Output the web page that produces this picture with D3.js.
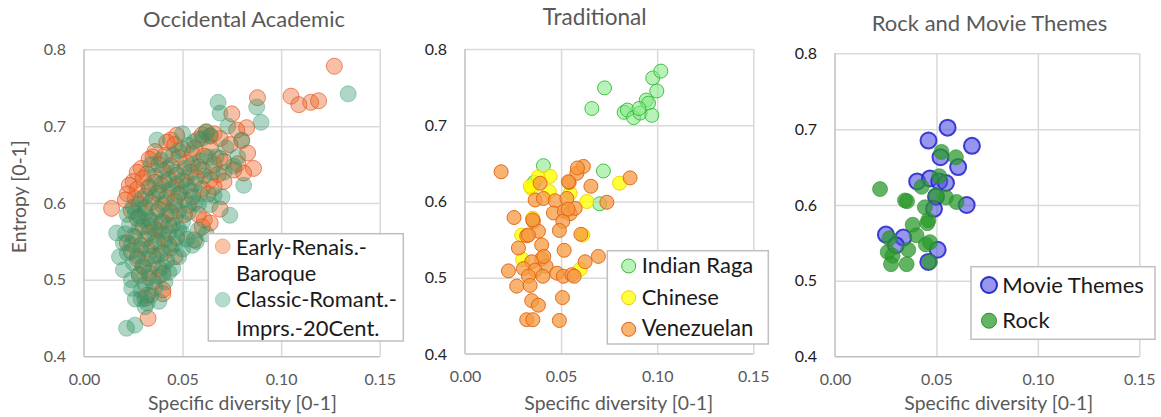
<!DOCTYPE html>
<html><head><meta charset="utf-8">
<script src="https://cdn.jsdelivr.net/npm/d3@7"></script>
<style>body{margin:0;background:#fff}svg{display:block}text{font-family:Lato,"Open Sans",sans-serif}</style>
</head><body><svg id="c" width="1161" height="417"></svg>
<script>
const xTicks=[0,0.05,0.10,0.15];
const yTicks=[0.4,0.5,0.6,0.7,0.8];
const titles=["Occidental Academic","Traditional","Rock and Movie Themes"];
const xTitle="Specific diversity [0-1]";
const yTitle="Entropy [0-1]";

const earlyBaroque=[[0.127,0.778],[0.105,0.739],[0.109,0.728],[0.115,0.731],[0.119,0.733],[0.088,0.737],[0.075,0.716],
[0.0825,0.698],[0.0775,0.695],[0.060,0.689],[0.062,0.692],[0.064,0.687],[0.066,0.690],[0.047,0.688],
[0.044,0.682],[0.042,0.679],[0.046,0.676],[0.058,0.683],[0.069,0.684],[0.080,0.681],
[0.036,0.667],[0.050,0.670],[0.056,0.671],[0.064,0.672],[0.074,0.676],
[0.035,0.660],[0.033,0.657],[0.041,0.662],[0.048,0.659],[0.055,0.664],[0.061,0.661],[0.083,0.665],[0.069,0.658],
[0.029,0.645],[0.038,0.650],[0.044,0.648],[0.052,0.652],[0.058,0.647],[0.066,0.650],[0.071,0.654],[0.086,0.645],[0.078,0.651],
[0.027,0.640],[0.032,0.638],[0.040,0.642],[0.047,0.636],[0.054,0.640],[0.060,0.643],[0.068,0.637],[0.081,0.639],[0.076,0.643],
[0.025,0.628],[0.030,0.632],[0.036,0.627],[0.043,0.631],[0.050,0.629],[0.057,0.633],[0.064,0.630],[0.071,0.628],
[0.023,0.623],[0.027,0.618],[0.033,0.621],[0.039,0.624],[0.045,0.619],[0.052,0.622],[0.060,0.618],[0.066,0.621],
[0.022,0.612],[0.026,0.606],[0.031,0.609],[0.037,0.613],[0.042,0.607],[0.048,0.611],[0.055,0.608],[0.063,0.612],
[0.014,0.593],[0.021,0.604],[0.028,0.598],[0.034,0.601],[0.040,0.597],[0.046,0.602],[0.053,0.597],[0.069,0.592],
[0.024,0.590],[0.031,0.587],[0.038,0.592],[0.044,0.588],[0.051,0.585],
[0.027,0.580],[0.034,0.576],[0.040,0.575],[0.046,0.581],[0.061,0.578],[0.064,0.574],[0.058,0.585],
[0.030,0.569],[0.036,0.566],[0.043,0.571],[0.060,0.569],
[0.025,0.557],[0.033,0.561],[0.040,0.559],[0.047,0.555],[0.056,0.552],
[0.022,0.548],[0.029,0.545],[0.037,0.550],[0.043,0.546],
[0.024,0.537],[0.032,0.540],[0.040,0.535],
[0.046,0.530],[0.027,0.527],[0.035,0.531],
[0.030,0.518],[0.038,0.515],
[0.028,0.506],[0.033,0.509],[0.040,0.508],
[0.035,0.498],[0.040,0.487],[0.040,0.482],[0.031,0.476],[0.032,0.480],[0.0325,0.450]];

const classicRomant=[[0.134,0.742],[0.0876,0.725],[0.0898,0.705],[0.068,0.731],[0.069,0.717],[0.080,0.682],[0.081,0.623],[0.074,0.584],
[0.0216,0.437],[0.0258,0.441],[0.0242,0.489],[0.020,0.513],[0.0166,0.561],[0.031,0.465],[0.029,0.475],
[0.037,0.682],[0.050,0.690],[0.062,0.693],[0.064,0.688],[0.073,0.700],[0.072,0.672],[0.067,0.660],[0.078,0.660],[0.076,0.648],
[0.071,0.640],[0.070,0.608],[0.066,0.610],[0.064,0.598],[0.058,0.598],[0.058,0.565],[0.062,0.560],[0.057,0.550],[0.052,0.553],[0.050,0.560],
[0.034,0.650],[0.039,0.656],[0.045,0.662],[0.048,0.668],[0.053,0.675],[0.056,0.680],[0.060,0.684],[0.042,0.645],[0.046,0.640],
[0.051,0.645],[0.055,0.650],[0.059,0.655],[0.063,0.660],[0.036,0.635],[0.041,0.628],[0.047,0.625],[0.052,0.632],[0.056,0.625],
[0.061,0.635],[0.065,0.640],[0.033,0.620],[0.038,0.615],[0.043,0.617],[0.049,0.614],[0.054,0.617],[0.059,0.612],[0.029,0.605],
[0.035,0.607],[0.041,0.600],[0.046,0.597],[0.051,0.605],[0.056,0.600],[0.025,0.595],[0.031,0.595],[0.037,0.588],[0.042,0.584],
[0.048,0.590],[0.053,0.588],[0.022,0.585],[0.028,0.583],[0.033,0.580],[0.039,0.576],[0.045,0.571],[0.050,0.575],
[0.023,0.572],[0.028,0.568],[0.033,0.570],[0.038,0.564],[0.043,0.561],[0.048,0.566],[0.021,0.560],[0.026,0.556],[0.031,0.553],
[0.036,0.558],[0.041,0.552],[0.046,0.547],[0.024,0.546],[0.029,0.540],[0.034,0.544],[0.039,0.538],[0.044,0.541],[0.022,0.535],
[0.027,0.531],[0.032,0.528],[0.037,0.532],[0.042,0.525],[0.025,0.522],[0.030,0.516],[0.035,0.520],[0.040,0.517],[0.045,0.515],
[0.028,0.508],[0.033,0.503],[0.038,0.505],[0.043,0.510],[0.031,0.495],[0.036,0.490],[0.041,0.497],[0.024,0.500],[0.034,0.480],
[0.029,0.486],[0.026,0.475],[0.032,0.470],[0.038,0.472],[0.020,0.548],[0.018,0.530],[0.026,0.588],[0.030,0.578],[0.050,0.540],
[0.055,0.545],[0.048,0.530]];

const indianRaga=[[0.0726,0.749],[0.066,0.722],[0.0828,0.717],[0.0845,0.720],[0.0877,0.710],[0.0911,0.716],[0.0943,0.733],[0.0955,0.729],
[0.0972,0.713],[0.0977,0.762],[0.1019,0.771],[0.0998,0.745],[0.0408,0.647],[0.0720,0.640],[0.0359,0.625],[0.0700,0.597],[0.0905,0.722]];
const chinese=[[0.0443,0.633],[0.0347,0.617],[0.0439,0.613],[0.0547,0.611],[0.0634,0.600],[0.0804,0.624],[0.0352,0.578],[0.0295,0.556],
[0.0613,0.556],[0.0300,0.524],[0.0599,0.511],[0.0340,0.620],[0.0380,0.632]];
const venezuelan=[[0.0188,0.639],[0.0391,0.624],[0.0365,0.602],[0.0408,0.604],[0.0469,0.601],[0.0530,0.604],[0.0542,0.625],[0.0582,0.637],
[0.0616,0.646],[0.0585,0.644],[0.0655,0.620],[0.0738,0.599],[0.0859,0.631],[0.0255,0.579],[0.0356,0.574],[0.0460,0.585],[0.0517,0.587],
[0.0547,0.584],[0.0573,0.591],[0.0509,0.574],[0.0491,0.562],[0.0382,0.561],[0.0321,0.555],[0.0603,0.557],[0.0278,0.539],[0.0399,0.543],
[0.0516,0.536],[0.0399,0.525],[0.0347,0.521],[0.0422,0.515],[0.0304,0.512],[0.0226,0.509],[0.0365,0.510],[0.0330,0.502],[0.0405,0.502],
[0.0478,0.506],[0.0512,0.502],[0.0556,0.504],[0.0568,0.502],[0.0625,0.521],[0.0694,0.528],[0.0269,0.489],[0.0339,0.490],[0.0347,0.470],
[0.0382,0.464],[0.0507,0.474],[0.0321,0.445],[0.0353,0.445],[0.0491,0.444],[0.0538,0.626],[0.0536,0.590],[0.0330,0.556],[0.0410,0.528],[0.0352,0.576]];
const movieThemes=[[0.0555,0.702],[0.0461,0.685],[0.0675,0.678],[0.052,0.663],[0.0607,0.650],[0.0405,0.631],[0.0468,0.635],[0.0514,0.631],
[0.0547,0.629],[0.0498,0.611],[0.0649,0.600],[0.0488,0.595],[0.0251,0.561],[0.0337,0.557],[0.0300,0.547],[0.0506,0.541],[0.046,0.525]];
const rock=[[0.0222,0.621],[0.0345,0.606],[0.0355,0.605],[0.0525,0.670],[0.0596,0.663],[0.0514,0.638],[0.0427,0.624],[0.0498,0.613],
[0.0547,0.610],[0.0599,0.604],[0.0443,0.597],[0.046,0.580],[0.0383,0.574],[0.0402,0.560],[0.0455,0.576],[0.0448,0.548],[0.0468,0.551],
[0.026,0.538],[0.0284,0.533],[0.0361,0.541],[0.0276,0.522],[0.0353,0.522],[0.0468,0.525],[0.0268,0.556]];

const svg=d3.select("#c");
function fit(t,w,base){t.style("font-size",base+"px");const L=t.node().getComputedTextLength();t.style("font-size",(base*w/L)+"px");return t;}

const panels=[
 {rect:[84,379.7,49.3,356.7],title:titles[0],tx:244,ty:27,tw:202,xtx:242.5,yTickColor:"#595959",showY:true,
  series:[{data:earlyBaroque,fill:"#EC6A2A",fo:0.42,stroke:"#E4501A",so:0.65,r:8,sw:1},
          {data:classicRomant,fill:"#2E9165",fo:0.38,stroke:"#3FA57A",so:0.45,r:8,sw:1}],
  legend:{box:[208.3,403.3,233.7,341],mx:222.7,tx:236,items:[
    {lines:["Early-Renais.-","Baroque"],my:246.3,base:[254.7,281.3],w:131,fill:"#F9C4A8",stroke:"#F4A886"},
    {lines:["Classic-Romant.-","Imprs.-20Cent."],my:299.7,base:[307,336.3],w:161,fill:"#B5DBCB",stroke:"#A3D2BF"}],r:7.3}},
 {rect:[465,753.3,49,354],title:titles[1],tx:594.7,ty:25,tw:104,xtx:618.8,yTickColor:"#262626",
  series:[{data:indianRaga,fill:"#7FE87F",fo:0.55,stroke:"#33BB33",so:0.9,r:7,sw:1},
          {data:chinese,fill:"#FFFF00",fo:0.78,stroke:"#F2CC00",so:0.9,r:7,sw:1},
          {data:venezuelan,fill:"#F59A40",fo:0.75,stroke:"#E0600E",so:0.9,r:7,sw:1}],
  legend:{box:[607.3,768.3,250.7,344],mx:628.7,tx:641.7,items:[
    {lines:["Indian Raga"],my:266,base:[273.3],w:111.6,fill:"#B9F3B9",stroke:"#33BB33"},
    {lines:["Chinese"],my:297.7,base:[305],fill:"#FFFF40",stroke:"#F2CC00"},
    {lines:["Venezuelan"],my:329.3,base:[336],w:111.7,fill:"#F8B470",stroke:"#E0600E"}],r:7}},
 {rect:[835,1139.3,53.3,356.7],title:titles[2],tx:989.5,ty:30.7,tw:235.6,xtx:998.8,yTickColor:"#1a1a1a",
  series:[{data:movieThemes,fill:"#5050E0",fo:0.6,stroke:"#2B2BCC",so:0.9,r:8,sw:2},
          {data:rock,fill:"#2A9A2A",fo:0.74,stroke:"#2E8B2E",so:0.6,r:7.5,sw:1}],
  legend:{box:[971,1155,266.7,339.3],mx:989,tx:1002.3,items:[
    {lines:["Movie Themes"],my:285,base:[292.7],w:141.7,fill:"#9696EC",stroke:"#2B2BCC",sw:2,r:8},
    {lines:["Rock"],my:320.7,base:[328.3],fill:"#62B562",stroke:"#2E8B2E",r:7.5}],r:8}}
];

panels.forEach((p,pi)=>{
  const [l,r,t,b]=p.rect;
  const x=d3.scaleLinear().domain([0,0.15]).range([l,r]);
  const y=d3.scaleLinear().domain([0.4,0.8]).range([b,t]);
  const g=svg.append("g");
  g.append("g").attr("transform",`translate(0,${b})`)
    .call(d3.axisBottom(x).tickValues(xTicks.slice(1)).tickSize(-(b-t)).tickFormat(""))
    .call(s=>s.select(".domain").remove()).selectAll("line").attr("stroke","#D9D9D9").attr("stroke-width",1.5);
  g.append("g").attr("transform",`translate(${l},0)`)
    .call(d3.axisLeft(y).tickValues(yTicks.slice(1)).tickSize(-(r-l)).tickFormat(""))
    .call(s=>s.select(".domain").remove()).selectAll("line").attr("stroke","#D9D9D9").attr("stroke-width",1.5);
  g.append("line").attr("x1",l).attr("x2",l).attr("y1",t).attr("y2",b).attr("stroke","#BFBFBF").attr("stroke-width",1.5);
  g.append("line").attr("x1",l).attr("x2",r).attr("y1",b).attr("y2",b).attr("stroke","#BFBFBF").attr("stroke-width",1.5);
  const xa=g.append("g").attr("transform",`translate(0,${b})`)
    .call(d3.axisBottom(x).tickValues(xTicks).tickSize(0).tickPadding(17).tickFormat(d3.format(".2f")));
  xa.select(".domain").remove();
  xa.selectAll("text").attr("fill","#595959").style("font-size","16px").style("font-family","Lato,sans-serif");
  const ya=g.append("g").attr("transform",`translate(${l},0)`)
    .call(d3.axisLeft(y).tickValues(yTicks).tickSize(0).tickPadding(18).tickFormat(d3.format(".1f")));
  ya.select(".domain").remove();
  ya.selectAll("text").attr("fill",p.yTickColor).style("font-size","16px").style("font-family","Lato,sans-serif");
  p.series.forEach(s=>{
    g.append("g").selectAll("circle").data(s.data).join("circle")
      .attr("cx",d=>x(d[0])).attr("cy",d=>y(d[1])).attr("r",s.r)
      .attr("fill",s.fill).attr("fill-opacity",s.fo)
      .attr("stroke",s.stroke).attr("stroke-opacity",s.so).attr("stroke-width",s.sw);
  });
  fit(g.append("text").attr("x",p.tx).attr("y",p.ty).attr("text-anchor","middle").attr("fill","#595959").text(p.title),p.tw,18);
  fit(g.append("text").attr("x",p.xtx).attr("y",410).attr("text-anchor","middle").attr("fill","#595959").text(xTitle),189,17);
  if(p.showY){
    fit(g.append("text").attr("transform","translate(26,196.7) rotate(-90)").attr("text-anchor","middle").attr("fill","#595959").text(yTitle),113,17);
  }
  const L=p.legend;
  g.append("rect").attr("x",L.box[0]).attr("y",L.box[2]).attr("width",L.box[1]-L.box[0]).attr("height",L.box[3]-L.box[2])
    .attr("fill","#fff").attr("stroke","#BFBFBF").attr("stroke-width",1.5);
  let fs=null;
  L.items.forEach(it=>{
    g.append("circle").attr("cx",L.mx).attr("cy",it.my).attr("r",it.r||L.r).attr("fill",it.fill).attr("stroke",it.stroke).attr("stroke-width",it.sw||1);
    it.lines.forEach((ln,i)=>{
      const tt=g.append("text").attr("x",L.tx).attr("y",it.base[i]).attr("fill","#1a1a1a").text(ln);
      if(i===0&&it.w){fit(tt,it.w,18);fs=tt.style("font-size");}
      else tt.style("font-size",fs||"18px");
    });
  });
});
</script></body></html>
